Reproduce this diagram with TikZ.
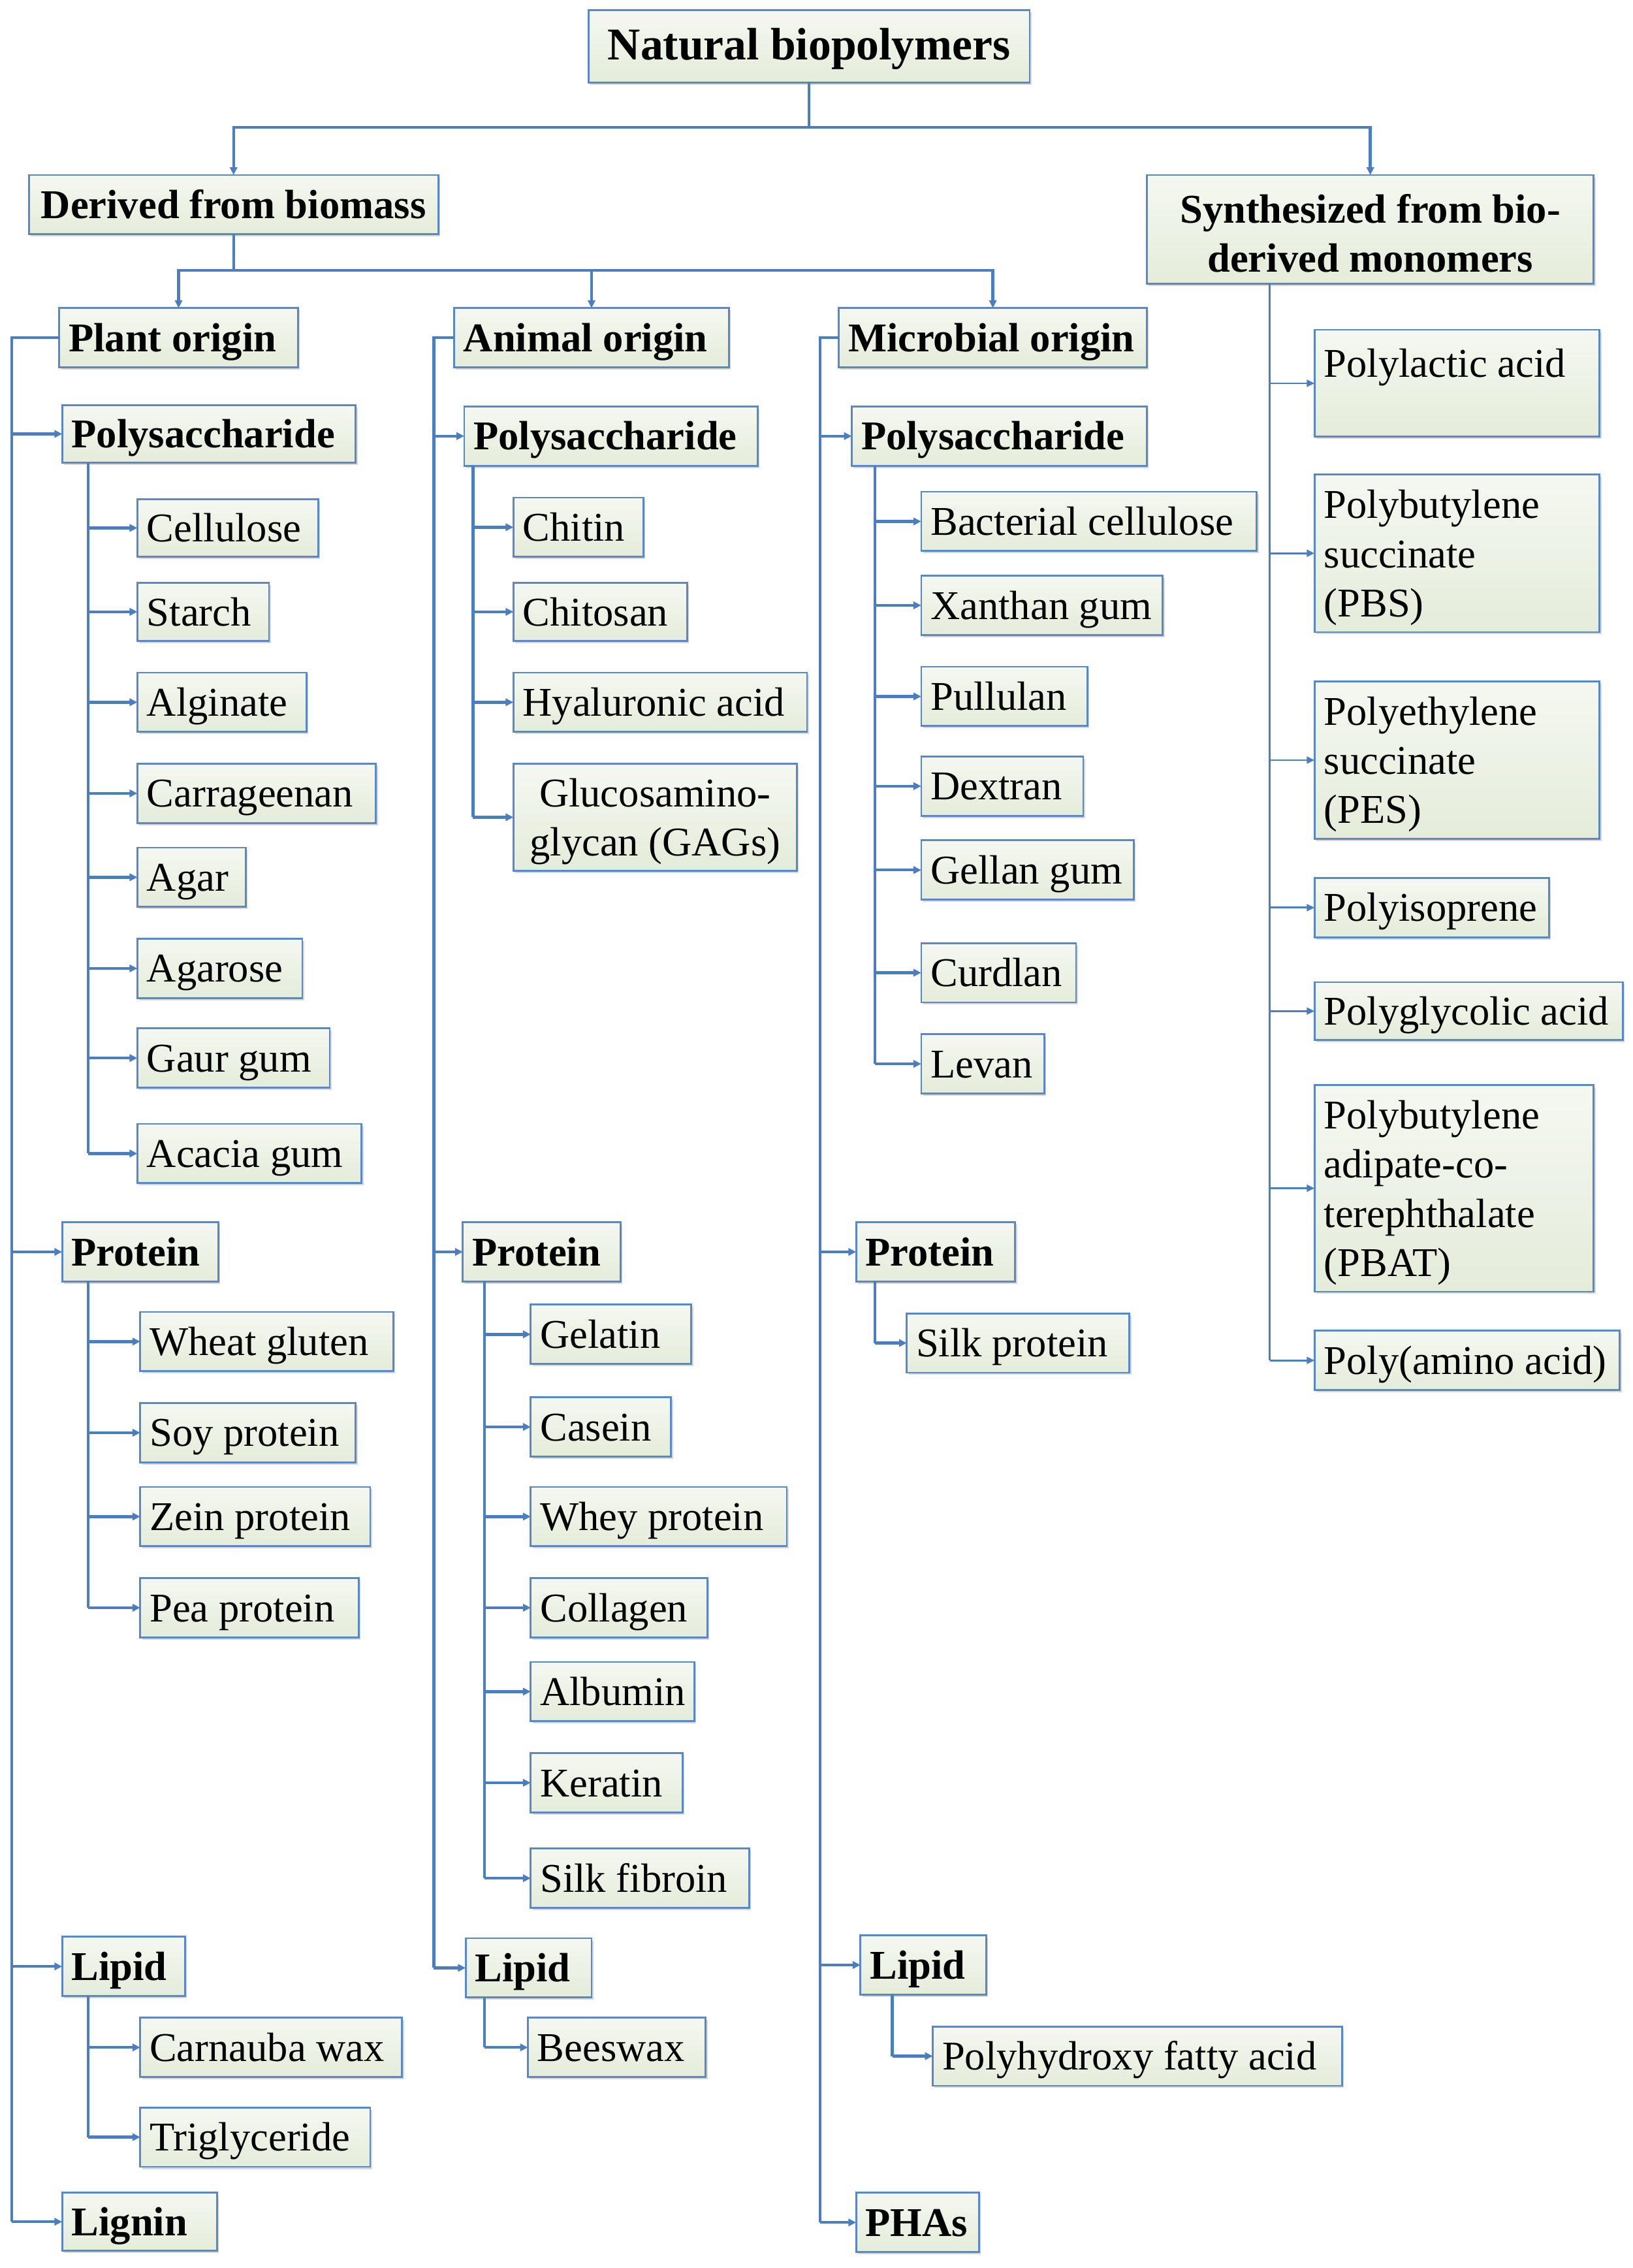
\documentclass[tikz,border=0pt]{standalone}
\usepackage{fontspec}
\setmainfont{Liberation Serif}
\usetikzlibrary{arrows.meta,calc,shadows}
\newlength\pxu
\setlength\pxu{0.22143mm}
\definecolor{lineblue}{HTML}{4A7EC0}
\definecolor{boxline}{HTML}{5A88C6}
\definecolor{boxtop}{HTML}{F5F8F1}
\definecolor{boxbot}{HTML}{E4ECDA}
\newcommand\regfont{\fontsize{17.8pt}{21.4pt}\selectfont}
\newcommand\hdfont{\fontsize{17.8pt}{21.4pt}\selectfont\bfseries}
\newcommand\ttlfont{\fontsize{19.8pt}{23.8pt}\selectfont\bfseries}
\newcommand\topst{\rule{0pt}{16.2pt}}
% #1 style, #2 name, #3 x1, #4 y1, #5 x2, #6 y2, #7 text
\newcommand\bxnode[7]{%
  \pgfmathsetlengthmacro\bxw{(#5-#3)*\pxu}%
  \pgfmathsetlengthmacro\bxh{(#6-#4)*\pxu}%
  \pgfmathsetlengthmacro\bxt{(#5-#3-13)*\pxu}%
  \node[#1, anchor=north west, minimum width=\bxw, minimum height=\bxh, text width=\bxt] (#2) at (#3,#4) {#7};}
\newcommand\bx[7]{\bxnode{#1}{#2}{#3}{#4}{#5}{#6}{\mbox{#7}}}
\newcommand\bm[7]{\bxnode{#1}{#2}{#3}{#4}{#5}{#6}{\topst#7}}
\begin{document}
\begin{tikzpicture}[x=\pxu,y=-\pxu,
  base/.style={draw=boxline, line width=0.8pt, top color=boxtop, bottom color=boxbot,
    drop shadow={shadow xshift=0.8pt,shadow yshift=-1pt,opacity=0.3},
    inner xsep=6.5\pxu, inner ysep=0pt, align=flush left, font=\regfont, outer sep=0pt},
  one/.style={base, text height=14pt, text depth=2pt},
  hd/.style={one, font=\hdfont},
  multi/.style={base},
  conn/.style={draw=lineblue, line width=2\pxu},
  arr/.style={conn, -{Triangle[length=3.4pt,width=3.2pt]}},
  thin/.style={draw=lineblue, line width=1.3\pxu},
  tarr/.style={thin, -{Triangle[length=3.4pt,width=3pt]}}]
\fill[white] (0,0) rectangle (1129,1568);
\useasboundingbox (0,0) rectangle (1129,1568);

% top levels
\bx{hd, font=\ttlfont, align=flush center}{title}{407}{7}{712}{57}{Natural biopolymers}
\bx{hd, align=flush center}{derived}{20}{121}{303}{162}{Derived from biomass}
\bm{multi, font=\hdfont, align=flush center}{synth}{793}{121}{1102}{196}{Synthesized from bio-\\derived monomers}
\bx{hd}{plant}{41}{213}{206}{254}{Plant origin}
\bx{hd}{animal}{314}{213}{504}{254}{Animal origin}
\bx{hd}{micro}{580}{213}{793}{254}{Microbial origin}

% plant column
\bx{hd}{pps}{43}{280}{246}{320}{Polysaccharide}
\bx{hd}{ppr}{43}{845}{151}{886}{Protein}
\bx{hd}{plp}{43}{1339}{128}{1380}{Lipid}
\bx{hd}{plg}{43}{1516}{150}{1556}{Lignin}
\bx{one}{c1}{95}{345}{220}{385}{Cellulose}
\bx{one}{c2}{95}{403}{186}{443}{Starch}
\bx{one}{c3}{95}{465}{212}{506}{Alginate}
\bx{one}{c4}{95}{528}{260}{569}{Carrageenan}
\bx{one}{c5}{95}{586}{170}{627}{Agar}
\bx{one}{c6}{95}{649}{209}{690}{Agarose}
\bx{one}{c7}{95}{711}{228}{752}{Gaur gum}
\bx{one}{c8}{95}{777}{250}{818}{Acacia gum}
\bx{one}{p1}{97}{907}{272}{948}{Wheat gluten}
\bx{one}{p2}{97}{970}{246}{1011}{Soy protein}
\bx{one}{p3}{97}{1028}{256}{1069}{Zein protein}
\bx{one}{p4}{97}{1091}{248}{1132}{Pea protein}
\bx{one}{l1}{97}{1395}{278}{1436}{Carnauba wax}
\bx{one}{l2}{97}{1457}{256}{1498}{Triglyceride}

% animal column
\bx{hd}{aps}{321}{281}{524}{322}{Polysaccharide}
\bx{hd}{apr}{320}{845}{429}{886}{Protein}
\bx{hd}{alp}{322}{1340}{409}{1381}{Lipid}
\bx{one}{ac1}{355}{344}{445}{385}{Chitin}
\bx{one}{ac2}{355}{403}{475}{443}{Chitosan}
\bx{one}{ac3}{355}{465}{558}{506}{Hyaluronic acid}
\bm{multi, align=flush center}{ac4}{355}{528}{551}{602}{Glucosamino-\\glycan (GAGs)}
\bx{one}{ap1}{367}{902}{478}{943}{Gelatin}
\bx{one}{ap2}{367}{966}{464}{1007}{Casein}
\bx{one}{ap3}{367}{1028}{544}{1069}{Whey protein}
\bx{one}{ap4}{367}{1091}{489}{1132}{Collagen}
\bx{one}{ap5}{367}{1149}{480}{1190}{Albumin}
\bx{one}{ap6}{367}{1212}{472}{1253}{Keratin}
\bx{one}{ap7}{367}{1278}{518}{1319}{Silk fibroin}
\bx{one}{al1}{365}{1395}{488}{1436}{Beeswax}

% microbial column
\bx{hd}{mps}{589}{281}{793}{322}{Polysaccharide}
\bx{hd}{mpr}{592}{845}{702}{886}{Protein}
\bx{hd}{mlp}{595}{1338}{682}{1379}{Lipid}
\bx{hd}{mph}{592}{1516}{677}{1557}{PHAs}
\bx{one}{mc1}{637}{340}{869}{381}{Bacterial cellulose}
\bx{one}{mc2}{637}{398}{804}{439}{Xanthan gum}
\bx{one}{mc3}{637}{461}{752}{502}{Pullulan}
\bx{one}{mc4}{637}{523}{749}{564}{Dextran}
\bx{one}{mc5}{637}{581}{784}{622}{Gellan gum}
\bx{one}{mc6}{637}{652}{744}{693}{Curdlan}
\bx{one}{mc7}{637}{715}{722}{756}{Levan}
\bx{one}{mp1}{627}{908}{781}{949}{Silk protein}
\bx{one}{ml1}{645}{1401}{928}{1442}{Polyhydroxy fatty acid}

% synthesized column
\bm{multi}{s1}{909}{228}{1106}{302}{Polylactic acid\\\mbox{}}
\bm{multi}{s2}{909}{328}{1106}{437}{Polybutylene\\succinate\\(PBS)}
\bm{multi}{s3}{909}{471}{1106}{580}{Polyethylene\\succinate\\(PES)}
\bx{one}{s4}{909}{607}{1071}{648}{Polyisoprene}
\bx{one}{s5}{909}{679}{1122}{719}{Polyglycolic acid}
\bm{multi}{s6}{909}{750}{1102}{893}{Polybutylene\\adipate-co-\\terephthalate\\(PBAT)}
\bx{one}{s7}{909}{920}{1120}{961}{Poly(amino acid)}

% top connectors
\coordinate (j0) at (title.south |- 0,88);
\draw[conn] (title.south) -- (j0);
\draw[arr] (j0) -| (derived.north);
\draw[arr] (j0) -| (synth.north);
\coordinate (j1) at (derived.south |- 0,187);
\draw[conn] (derived.south) -- (j1);
\draw[arr] (j1) -| (plant.north);
\draw[arr] (j1) -| (animal.north);
\draw[arr] (j1) -| (micro.north);

% plant connectors
\coordinate (vp) at ($(plant.west)+(-33,0)$);
\draw[conn] (plant.west) -- (vp) -- (vp |- plg.west);
\foreach \n in {pps,ppr,plp,plg} \draw[arr] (vp |- \n.west) -- (\n.west);
\coordinate (vp1) at ($(pps.south west)+(18,0)$);
\draw[conn] (vp1) -- (vp1 |- c8.west);
\foreach \n in {c1,c2,c3,c4,c5,c6,c7,c8} \draw[arr] (vp1 |- \n.west) -- (\n.west);
\coordinate (vp2) at ($(ppr.south west)+(18,0)$);
\draw[conn] (vp2) -- (vp2 |- p4.west);
\foreach \n in {p1,p2,p3,p4} \draw[arr] (vp2 |- \n.west) -- (\n.west);
\coordinate (vp3) at ($(plp.south west)+(18,0)$);
\draw[conn] (vp3) -- (vp3 |- l2.west);
\foreach \n in {l1,l2} \draw[arr] (vp3 |- \n.west) -- (\n.west);

% animal connectors
\coordinate (va) at ($(animal.west)+(-14,0)$);
\draw[conn] (animal.west) -- (va) -- (va |- alp.west);
\foreach \n in {aps,apr,alp} \draw[arr] (va |- \n.west) -- (\n.west);
\coordinate (va1) at ($(aps.south west)+(6,0)$);
\draw[conn] (va1) -- (va1 |- ac4.west);
\foreach \n in {ac1,ac2,ac3,ac4} \draw[arr] (va1 |- \n.west) -- (\n.west);
\coordinate (va2) at ($(apr.south west)+(15,0)$);
\draw[conn] (va2) -- (va2 |- ap7.west);
\foreach \n in {ap1,ap2,ap3,ap4,ap5,ap6,ap7} \draw[arr] (va2 |- \n.west) -- (\n.west);
\coordinate (va3) at ($(alp.south west)+(13,0)$);
\draw[conn] (va3) -- (va3 |- al1.west);
\draw[arr] (va3 |- al1.west) -- (al1.west);

% microbial connectors
\coordinate (vm) at ($(micro.west)+(-13,0)$);
\draw[conn] (micro.west) -- (vm) -- (vm |- mph.west);
\foreach \n in {mps,mpr,mlp,mph} \draw[arr] (vm |- \n.west) -- (\n.west);
\coordinate (vm1) at ($(mps.south west)+(16,0)$);
\draw[conn] (vm1) -- (vm1 |- mc7.west);
\foreach \n in {mc1,mc2,mc3,mc4,mc5,mc6,mc7} \draw[arr] (vm1 |- \n.west) -- (\n.west);
\coordinate (vm2) at ($(mpr.south west)+(13,0)$);
\draw[conn] (vm2) -- (vm2 |- mp1.west);
\draw[arr] (vm2 |- mp1.west) -- (mp1.west);
\coordinate (vm3) at ($(mlp.south west)+(22,0)$);
\draw[conn] (vm3) -- (vm3 |- ml1.west);
\draw[arr] (vm3 |- ml1.west) -- (ml1.west);

% synthesized connectors
\coordinate (vs) at ($(synth.south west)+(85,0)$);
\draw[thin] (vs) -- (vs |- s7.west);
\foreach \n in {s1,s2,s3,s4,s5,s6,s7} \draw[tarr] (vs |- \n.west) -- (\n.west);
\end{tikzpicture}
\end{document}
